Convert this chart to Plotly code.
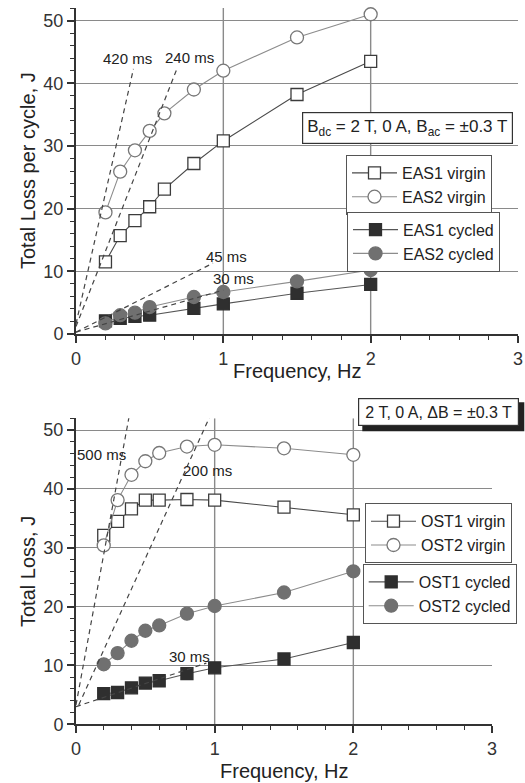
import plotly.graph_objects as go

# ---------------- data: top chart (EAS) ----------------
freq_top = [0.2, 0.3, 0.4, 0.5, 0.6, 0.8, 1.0, 1.5, 2.0]
eas1_virgin = [11.5, 15.7, 18.1, 20.3, 23.1, 27.2, 30.8, 38.2, 43.5]
eas2_virgin = [19.4, 25.9, 29.3, 32.4, 35.2, 39.0, 42.0, 47.3, 51.0]

freq_top_cyc = [0.2, 0.3, 0.4, 0.5, 0.8, 1.0, 1.5, 2.0]
eas1_cycled = [2.1, 2.5, 2.8, 3.0, 4.1, 4.8, 6.5, 7.9]
eas2_cycled = [1.7, 3.0, 3.4, 4.3, 5.9, 6.7, 8.4, 10.2]

# time-constant guide lines (top)
tau_top_names = ["420 ms", "240 ms", "45 ms", "30 ms"]
tau_top_x = [[0.0, 0.39], [0.0, 0.685], [0.0, 0.93], [0.0, 1.0]]
tau_top_y = [[1.6, 42.3], [1.2, 42.3], [0.3, 11.3], [0.3, 7.0]]
tau_top_label_x = [0.35, 0.77, 1.02, 1.07]
tau_top_label_y = [43.9, 44.1, 12.4, 8.8]

# ---------------- data: bottom chart (OST) ----------------
freq_bot = [0.2, 0.3, 0.4, 0.5, 0.6, 0.8, 1.0, 1.5, 2.0]
ost1_virgin = [32.1, 34.5, 36.6, 38.1, 38.1, 38.2, 38.1, 36.9, 35.6]
ost2_virgin = [30.4, 38.1, 42.4, 44.7, 46.1, 47.2, 47.5, 46.9, 45.8]
ost1_cycled = [5.2, 5.4, 6.2, 7.0, 7.4, 8.6, 9.6, 11.1, 13.9]
ost2_cycled = [10.2, 12.1, 14.2, 15.9, 16.8, 18.8, 20.1, 22.4, 26.0]

tau_bot_names = ["500 ms", "200 ms", "30 ms"]
tau_bot_x = [[0.0, 0.397], [0.02, 1.0], [0.0, 0.94]]
tau_bot_y = [[3.3, 54.1], [3.3, 54.1], [3.0, 10.4]]
tau_bot_label_x = [0.185, 0.95, 0.82]
tau_bot_label_y = [45.8, 43.1, 11.6]

x_ticks = [0, 1, 2, 3]
x_minor = [0.2, 0.4, 0.6, 0.8, 1.2, 1.4, 1.6, 1.8, 2.2, 2.4, 2.6, 2.8]
y_ticks = [0, 10, 20, 30, 40, 50]
y_minor = [v for v in range(2, 53, 2) if v % 10 != 0]

FONT = "Liberation Sans, Arial, sans-serif"
DARK = "#333333"
GRID = "#8a8a8a"
W, H = 525, 783

fig = go.Figure()


def add_series(x, y, name, symbol, fill, edge, line_color, xa, ya, legend):
    fig.add_trace(go.Scatter(
        x=x, y=y, name=name, mode="lines+markers",
        line=dict(color=line_color, width=1.1),
        marker=dict(symbol=symbol, size=13 if "circle" in symbol else 12,
                    color=fill, line=dict(color=edge, width=1.3)),
        xaxis=xa, yaxis=ya, legend=legend, cliponaxis=False,
    ))


# top
add_series(freq_top, eas1_virgin, "EAS1 virgin", "square", "white", "#3c3c3c", "#4a4a4a", "x", "y", "legend")
add_series(freq_top, eas2_virgin, "EAS2 virgin", "circle", "white", "#777777", "#8c8c8c", "x", "y", "legend")
add_series(freq_top_cyc, eas1_cycled, "EAS1 cycled", "square", "#2f2f2f", "#2f2f2f", "#555555", "x", "y", "legend2")
add_series(freq_top_cyc, eas2_cycled, "EAS2 cycled", "circle", "#707070", "#707070", "#8c8c8c", "x", "y", "legend2")

# bottom
add_series(freq_bot, ost1_virgin, "OST1 virgin", "square", "white", "#3c3c3c", "#4a4a4a", "x2", "y2", "legend3")
add_series(freq_bot, ost2_virgin, "OST2 virgin", "circle", "white", "#777777", "#8c8c8c", "x2", "y2", "legend3")
add_series(freq_bot, ost1_cycled, "OST1 cycled", "square", "#2f2f2f", "#2f2f2f", "#555555", "x2", "y2", "legend4")
add_series(freq_bot, ost2_cycled, "OST2 cycled", "circle", "#707070", "#707070", "#8c8c8c", "x2", "y2", "legend4")

# dashed guide lines
for xs, ys in zip(tau_top_x, tau_top_y):
    fig.add_trace(go.Scatter(x=xs, y=ys, mode="lines", showlegend=False,
                             line=dict(color="#444444", width=1.2, dash="5px,4px"),
                             xaxis="x", yaxis="y", hoverinfo="skip"))
for xs, ys in zip(tau_bot_x, tau_bot_y):
    fig.add_trace(go.Scatter(x=xs, y=ys, mode="lines", showlegend=False,
                             line=dict(color="#444444", width=1.2, dash="5px,4px"),
                             xaxis="x2", yaxis="y2", hoverinfo="skip"))

annotations = []
for name, lx, ly in zip(tau_top_names, tau_top_label_x, tau_top_label_y):
    annotations.append(dict(x=lx, y=ly, xref="x", yref="y", text=name, showarrow=False,
                            xanchor="center", yanchor="middle",
                            font=dict(family=FONT, size=15, color="#222")))
for name, lx, ly in zip(tau_bot_names, tau_bot_label_x, tau_bot_label_y):
    annotations.append(dict(x=lx, y=ly, xref="x2", yref="y2", text=name, showarrow=False,
                            xanchor="center", yanchor="middle",
                            font=dict(family=FONT, size=15, color="#222")))

# condition boxes
annotations.append(dict(x=2.25, y=32.9, xref="x", yref="y", showarrow=False,
                        xanchor="center", yanchor="middle",
                        text="B<sub>dc</sub> = 2 T, 0 A, B<sub>ac</sub> = \u00b10.3 T",
                        font=dict(family=FONT, size=17, color="#222"),
                        bgcolor="white", bordercolor="#333", borderwidth=1.2, borderpad=4))

box2_text = "2 T, 0 A, \u0394B = \u00b10.3 T"
bcx, bcy, bw, bh = 438.3, 411.7, 162, 29  # box centre / size in px
annotations.append(dict(x=bcx / W, y=1 - bcy / H, xref="paper", yref="paper", showarrow=False,
                        xanchor="center", yanchor="middle", width=bw - 9, height=bh - 9,
                        text=box2_text,
                        font=dict(family=FONT, size=16, color="#222"),
                        bgcolor="white", bordercolor="#333", borderwidth=1.2, borderpad=3))

# axis titles
title_font = dict(family=FONT, size=20, color="#222")
annotations += [
    dict(x=28 / W, y=1 - 171 / H, xref="paper", yref="paper", text="Total Loss per cycle, J",
         textangle=-90, showarrow=False, xanchor="center", yanchor="middle", font=title_font),
    dict(x=297 / W, y=1 - 371 / H, xref="paper", yref="paper", text="Frequency, Hz",
         showarrow=False, xanchor="center", yanchor="middle", font=title_font),
    dict(x=28 / W, y=1 - 572 / H, xref="paper", yref="paper", text="Total Loss, J",
         textangle=-90, showarrow=False, xanchor="center", yanchor="middle", font=title_font),
    dict(x=284 / W, y=1 - 771 / H, xref="paper", yref="paper", text="Frequency, Hz",
         showarrow=False, xanchor="center", yanchor="middle", font=title_font),
]

shapes = []
# drop shadow of the bottom condition box
sh = 5
shapes.append(dict(type="rect", xref="paper", yref="paper",
                   x0=(bcx - bw / 2 + sh) / W, x1=(bcx + bw / 2 + sh) / W,
                   y0=1 - (bcy + bh / 2 + sh) / H, y1=1 - (bcy - bh / 2 + sh) / H,
                   fillcolor="#222", line=dict(width=0), layer="above"))
# vertical grid lines at 1 and 2 Hz
for xv in [1, 2]:
    shapes.append(dict(type="line", xref="x", yref="y", x0=xv, x1=xv, y0=0, y1=52,
                       line=dict(color=GRID, width=1.4), layer="below"))
    shapes.append(dict(type="line", xref="x2", yref="y2", x0=xv, x1=xv, y0=0, y1=52,
                       line=dict(color=GRID, width=1.4), layer="below"))

xcommon = dict(range=[0, 3], tickmode="array", tickvals=x_ticks, ticktext=[str(v) for v in x_ticks],
               showgrid=False, zeroline=False, showline=True, linecolor=DARK, linewidth=2,
               ticks="outside", ticklen=7, tickwidth=1.5, tickcolor=DARK,
               tickfont=dict(family=FONT, size=18, color="#333"),
               minor=dict(tickmode="array", tickvals=x_minor, ticks="outside", ticklen=4,
                          tickwidth=1.3, tickcolor=DARK, showgrid=False),
               automargin=False, fixedrange=True)
ycommon = dict(range=[0, 52], tickmode="array", tickvals=y_ticks, ticktext=[str(v) for v in y_ticks],
               showgrid=True, gridcolor=GRID, gridwidth=1.4, zeroline=False,
               showline=True, linecolor=DARK, linewidth=2,
               ticks="outside", ticklen=7, tickwidth=1.5, tickcolor=DARK,
               tickfont=dict(family=FONT, size=18, color="#333"),
               minor=dict(tickmode="array", tickvals=y_minor, ticks="outside", ticklen=4,
                          tickwidth=1.3, tickcolor=DARK, showgrid=False),
               automargin=False, fixedrange=True)

legend_common = dict(bgcolor="white", bordercolor="#555", borderwidth=1,
                     font=dict(family=FONT, size=16, color="#222"),
                     xanchor="left", yanchor="top", tracegroupgap=0, itemwidth=45)

fig.update_layout(
    width=W, height=H,
    margin=dict(l=0, r=0, t=0, b=0),
    paper_bgcolor="white", plot_bgcolor="white",
    font=dict(family=FONT, color="#222"),
    xaxis=dict(domain=[76 / W, 518 / W], anchor="y", **xcommon),
    yaxis=dict(domain=[1 - 334 / H, 1 - 8 / H], anchor="x", **ycommon),
    xaxis2=dict(domain=[76 / W, 492 / W], anchor="y2", **xcommon),
    yaxis2=dict(domain=[1 - 724.3 / H, 1 - 418.3 / H], anchor="x2", **ycommon),
    legend=dict(x=346 / W, y=1 - 155 / H, **legend_common),
    legend2=dict(x=347 / W, y=1 - 211.7 / H, **legend_common),
    legend3=dict(x=365 / W, y=1 - 503.3 / H, **legend_common),
    legend4=dict(x=362.7 / W, y=1 - 564 / H, **legend_common),
    annotations=annotations,
    shapes=shapes,
    showlegend=True,
)

fig.write_html("out.html")
